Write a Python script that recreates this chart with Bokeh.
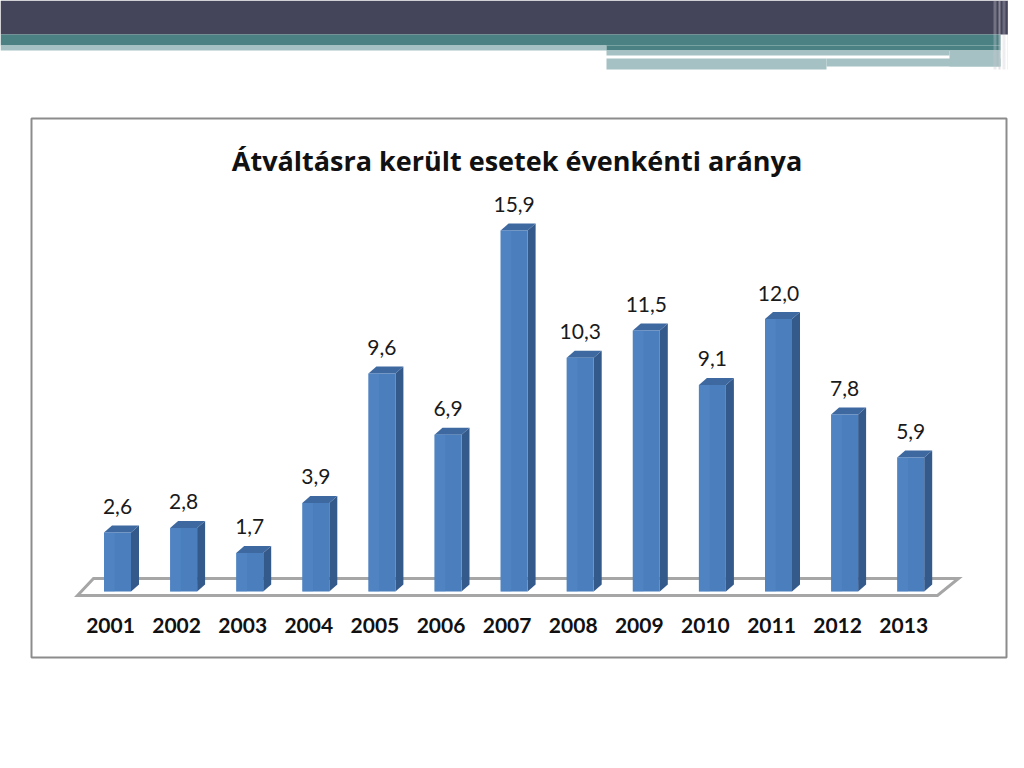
import numpy as np
from bokeh.plotting import figure
from bokeh.models import Range1d
from bokeh.embed import file_html
from bokeh.resources import INLINE
from bokeh.core.properties import value

# ---------------- data ----------------
years = ["2001", "2002", "2003", "2004", "2005", "2006", "2007",
         "2008", "2009", "2010", "2011", "2012", "2013"]
rates = [2.6, 2.8, 1.7, 3.9, 9.6, 6.9, 15.9, 10.3, 11.5, 9.1, 12.0, 7.8, 5.9]
rate_labels = ["2,6", "2,8", "1,7", "3,9", "9,6", "6,9", "15,9",
               "10,3", "11,5", "9,1", "12,0", "7,8", "5,9"]
chart_title = "Átváltásra került esetek évenkénti aránya"

# ---------------- geometry (pixels) ----------------
W, H = 1008, 752
STEP = 66.1          # px between bar centres
UNIT = 22.7          # px per value unit
BASE = 591           # y of value 0
FIRST = 117          # x of first bar centre

x0 = -FIRST / STEP
x1 = x0 + W / STEP
y0 = -(H - BASE) / UNIT
y1 = y0 + H / UNIT

p = figure(width=W, height=H, output_backend="svg", toolbar_location=None,
           x_range=Range1d(x0, x1), y_range=Range1d(y0, y1),
           x_axis_location=None, y_axis_location=None,
           min_border=0, outline_line_color=None,
           background_fill_color="white", border_fill_color="white")
p.grid.visible = False
p.extra_x_ranges = {"px": Range1d(0, W)}
p.extra_y_ranges = {"py": Range1d(H, 0)}
PX = dict(x_range_name="px", y_range_name="py")

FONT = value("Lato")

# ---------------- slide decoration ----------------
p.quad(left=[0], right=[1024], top=[0], bottom=[34], fill_color="#44445a", line_color=None, **PX)
p.quad(left=[0], right=[1000], top=[34], bottom=[45], fill_color="#4b8183", line_color=None, **PX)
p.quad(left=[0], right=[606], top=[45], bottom=[50], fill_color="#a6c1c3", line_color=None, **PX)
p.quad(left=[606], right=[1000], top=[45], bottom=[50], fill_color="#4b8183", line_color=None, **PX)
p.quad(left=[606], right=[949], top=[50], bottom=[55], fill_color="#a6c1c3", line_color=None, **PX)
p.quad(left=[949], right=[1000], top=[50], bottom=[66], fill_color="#a6c1c3", line_color=None, **PX)
p.quad(left=[606], right=[826], top=[58], bottom=[69], fill_color="#a6c1c3", line_color=None, **PX)
p.quad(left=[826], right=[1000], top=[58], bottom=[66], fill_color="#a6c1c3", line_color=None, **PX)
for xl, xr, a in [(993, 996, 0.35), (998, 1000, 0.5), (1002, 1005, 0.3),
                  (1007, 1009, 0.45), (1011, 1014, 0.3), (1016, 1018, 0.4), (1020, 1024, 0.3)]:
    p.quad(left=[xl], right=[xr], top=[0], bottom=[69], fill_color="#c8c8d0",
           fill_alpha=a, line_color=None, **PX)

# chart frame
p.quad(left=[31], right=[1006], top=[118], bottom=[657], fill_color="white",
       line_color="#8c8c8c", line_width=2, **PX)

# title
p.text(x=[516.5], y=[160], text=[chart_title], text_font=value("Open Sans"),
       text_font_style="bold", text_font_size="27px", text_align="center",
       text_baseline="alphabetic", text_color="#111111", **PX)

# floor
p.patch(x=[77, 93, 958, 937], y=[595, 578, 578, 595], fill_color="white",
        line_color="#a6a6a6", line_width=3, line_join="miter", **PX)

# ---------------- bars ----------------
idx = np.arange(len(years), dtype=float)
vals = np.array(rates, dtype=float)
bw = 27 / STEP
dx = 8 / STEP
dy = 7 / UNIT
left = idx - bw / 2
right = idx + bw / 2

side_xs = [[r, r + dx, r + dx, r] for r in right]
side_ys = [[0, dy, v + dy, v] for v in vals]
p.patches(xs=side_xs, ys=side_ys, fill_color="#34598b", line_color=None)

top_xs = [[l, l + dx, r + dx, r] for l, r in zip(left, right)]
top_ys = [[v, v + dy, v + dy, v] for v in vals]
p.patches(xs=top_xs, ys=top_ys, fill_color="#3d68a0", line_color=None)

p.vbar(x=idx, width=bw, top=vals, bottom=0, fill_color="#4a7ebd", line_color=None)
p.vbar(x=idx - bw * 0.3, width=bw * 0.4, top=vals, bottom=0, fill_color="#5a8dca",
       fill_alpha=0.35, line_color=None)

# value labels
p.text(x=idx, y=vals + 26 / UNIT, text=rate_labels, text_font=FONT,
       text_font_size="21px", text_align="center", text_baseline="alphabetic",
       text_color="#1a1a1a")

# year labels
p.text(x=idx - 7 / STEP, y=[625] * len(years), text=years, text_font=FONT,
       text_font_style="bold", text_font_size="21px", text_align="center",
       text_baseline="alphabetic", text_color="#111111", x_range_name="default",
       y_range_name="py")

open("out.html", "w").write(file_html(p, INLINE))
